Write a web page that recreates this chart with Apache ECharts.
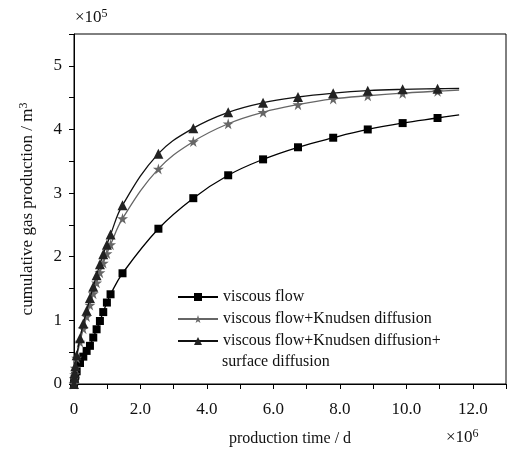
<!DOCTYPE html>
<html><head><meta charset="utf-8">
<script src="https://cdn.jsdelivr.net/npm/echarts@6/dist/echarts.min.js"></script>
<style>html,body{margin:0;padding:0;background:#fff}#c{width:509px;height:452px}</style>
</head><body><div id="c"></div>
<script>
// time in 10^6 d, production in 10^5 m^3
const timeX = [0, 0.01, 0.02, 0.04, 0.08, 0.18, 0.28, 0.38, 0.48, 0.58, 0.68, 0.78, 0.88, 0.99, 1.10, 1.46, 2.54, 3.59, 4.64, 5.69, 6.74, 7.80, 8.84, 9.89, 10.94, 11.59];
const viscous = [0, 0.04, 0.08, 0.13, 0.20, 0.33, 0.43, 0.52, 0.60, 0.73, 0.86, 0.99, 1.13, 1.28, 1.41, 1.74, 2.44, 2.92, 3.28, 3.53, 3.72, 3.87, 4.00, 4.10, 4.18, 4.23];
const knudsen = [0, 0.09, 0.15, 0.25, 0.41, 0.66, 0.87, 1.06, 1.24, 1.42, 1.59, 1.75, 1.90, 2.05, 2.19, 2.60, 3.38, 3.81, 4.09, 4.27, 4.39, 4.48, 4.53, 4.57, 4.60, 4.62];
const surface = [0, 0.10, 0.17, 0.28, 0.45, 0.72, 0.95, 1.15, 1.35, 1.53, 1.71, 1.88, 2.04, 2.19, 2.35, 2.81, 3.62, 4.02, 4.27, 4.42, 4.51, 4.57, 4.61, 4.63, 4.64, 4.645];
const seriesNames = ['viscous flow', 'viscous flow+Knudsen diffusion', 'viscous flow+Knudsen diffusion+\nsurface diffusion'];
const xTickLabels = ['0', '2.0', '4.0', '6.0', '8.0', '10.0', '12.0'];
const yTickLabels = ['0', '1', '2', '3', '4', '5'];

const FONT = "'Liberation Serif','Times New Roman',serif";
const STAR = 'path://M50,0 L61,35 L98,35 L68,57 L79,91 L50,70 L21,91 L32,57 L2,35 L39,35 Z';

function pairs(ys) {
  return timeX.map((x, i) => {
    const d = { value: [x, ys[i]] };
    if (i === timeX.length - 1) d.symbol = 'none';
    return d;
  });
}
const lastLines = seriesNames[2].split('\n');

const chart = echarts.init(document.getElementById('c'), null, { renderer: 'canvas' });
chart.setOption({
  animation: false,
  backgroundColor: '#fff',
  textStyle: { fontFamily: FONT },
  grid: { left: 74, top: 34, right: 3, bottom: 67, show: true, borderColor: '#000', borderWidth: 1 },
  xAxis: {
    type: 'value', min: 0, max: 13, interval: 1,
    name: 'production time / d', nameLocation: 'middle', nameGap: 47,
    nameTextStyle: { fontFamily: FONT, fontSize: 16, color: '#111' },
    axisLine: { onZero: false, lineStyle: { color: '#000', width: 1 } },
    axisTick: { inside: false, length: 5, lineStyle: { color: '#000' } },
    axisLabel: {
      fontFamily: FONT, fontSize: 17, color: '#111', margin: 17,
      formatter: v => (Math.round(v) % 2 === 0 && Math.round(v) / 2 < xTickLabels.length) ? xTickLabels[Math.round(v) / 2] : ''
    },
    splitLine: { show: false }
  },
  yAxis: {
    type: 'value', min: 0, max: 5.5, interval: 0.5,
    name: 'cumulative gas production / m{sup|3}', nameLocation: 'middle', nameGap: 36,
    nameTextStyle: { fontFamily: FONT, fontSize: 17, color: '#111', rich: { sup: { fontFamily: FONT, fontSize: 12, verticalAlign: 'top', padding: [0, 0, 8, 0] } } },
    axisLine: { lineStyle: { color: '#000', width: 1 } },
    axisTick: { inside: false, length: 5, lineStyle: { color: '#000' } },
    axisLabel: {
      fontFamily: FONT, fontSize: 17, color: '#111', margin: 12,
      formatter: v => (Math.abs(v - Math.round(v)) < 1e-6 && Math.round(v) < yTickLabels.length) ? yTickLabels[Math.round(v)] : ''
    },
    splitLine: { show: false }
  },
  legend: [{
    data: [seriesNames[0], seriesNames[1]],
    orient: 'vertical', left: 172, top: 281, itemGap: 0, itemWidth: 40, itemHeight: 10,
    textStyle: { fontFamily: FONT, fontSize: 16, color: '#111', lineHeight: 22 }
  }, {
    data: [seriesNames[2]],
    orient: 'vertical', left: 172, top: 325, itemGap: 0, itemWidth: 40, itemHeight: 10,
    formatter: () => lastLines[0],
    textStyle: { fontFamily: FONT, fontSize: 16, color: '#111', lineHeight: 22 }
  }],
  graphic: [
    { type: 'text', left: 75, top: 8, style: { text: '×10{s|5}', fontFamily: FONT, fontSize: 17, fill: '#111',
      rich: { s: { fontFamily: FONT, fontSize: 12, verticalAlign: 'top', padding: [0, 0, 8, 0] } } } },
    { type: 'text', left: 446, top: 428, style: { text: '×10{s|6}', fontFamily: FONT, fontSize: 17, fill: '#111',
      rich: { s: { fontFamily: FONT, fontSize: 12, verticalAlign: 'top', padding: [0, 0, 8, 0] } } } },
    { type: 'text', left: 222, top: 354, style: { text: lastLines[1], fontFamily: FONT, fontSize: 16, fill: '#111' } }
  ],
  series: [{
    name: seriesNames[0], type: 'line', data: pairs(viscous),
    smooth: 0.4,
    symbol: 'rect', symbolSize: 8, showAllSymbol: true,
    lineStyle: { color: '#000', width: 1.3 }, itemStyle: { color: '#000' }, z: 3
  }, {
    name: seriesNames[1], type: 'line', data: pairs(knudsen),
    smooth: 0.4,
    symbol: STAR, symbolSize: 11, showAllSymbol: true,
    lineStyle: { color: '#666', width: 1.3 }, itemStyle: { color: '#666' }, z: 4
  }, {
    name: seriesNames[2], type: 'line', data: pairs(surface),
    smooth: 0.4,
    symbol: 'triangle', symbolSize: 10, showAllSymbol: true,
    lineStyle: { color: '#111', width: 1.3 }, itemStyle: { color: '#222' }, z: 5
  }]
});
</script></body></html>
